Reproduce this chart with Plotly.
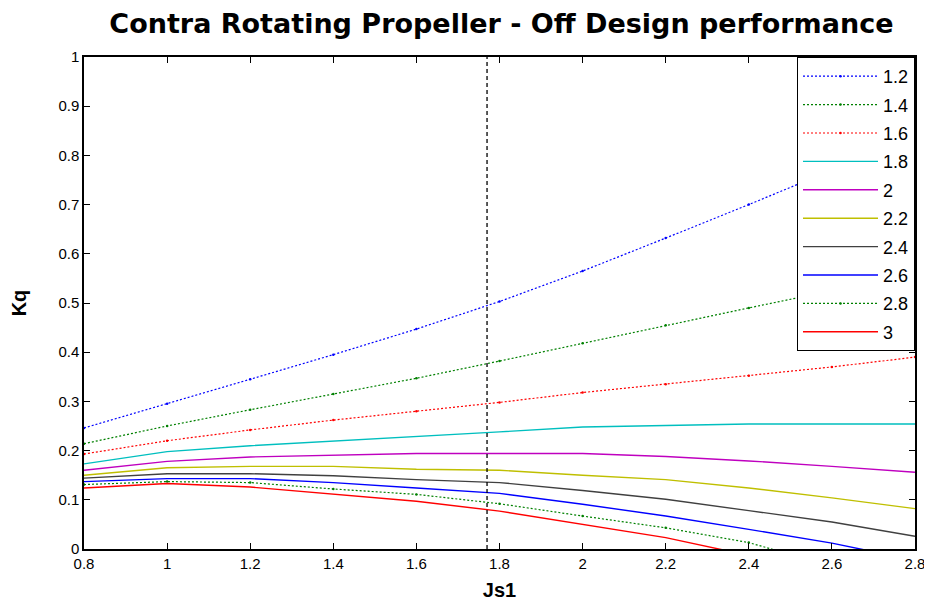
import plotly.graph_objects as go

J = [0.8, 1.0, 1.2, 1.4, 1.6, 1.8, 2.0, 2.2, 2.4, 2.6, 2.8]
series_names = ["1.2", "1.4", "1.6", "1.8", "2", "2.2", "2.4", "2.6", "2.8", "3"]
kq_12 = [0.246, 0.295, 0.345, 0.395, 0.447, 0.503, 0.565, 0.632, 0.700, 0.770, 0.840]
kq_14 = [0.214, 0.250, 0.283, 0.315, 0.347, 0.382, 0.418, 0.455, 0.490, 0.525, 0.560]
kq_16 = [0.193, 0.220, 0.242, 0.262, 0.280, 0.298, 0.318, 0.335, 0.352, 0.370, 0.390]
kq_18 = [0.173, 0.198, 0.210, 0.219, 0.228, 0.238, 0.248, 0.251, 0.254, 0.254, 0.254]
kq_20 = [0.160, 0.178, 0.187, 0.191, 0.194, 0.194, 0.194, 0.188, 0.179, 0.168, 0.156]
kq_22 = [0.150, 0.165, 0.168, 0.168, 0.162, 0.160, 0.150, 0.141, 0.124, 0.104, 0.082]
kq_24 = [0.144, 0.153, 0.153, 0.149, 0.141, 0.135, 0.119, 0.101, 0.078, 0.055, 0.026]
kq_26 = [0.137, 0.143, 0.143, 0.135, 0.124, 0.113, 0.091, 0.067, 0.040, 0.012, -0.023]
kq_28 = [0.131, 0.137, 0.135, 0.122, 0.111, 0.092, 0.067, 0.043, 0.013, -0.035, -0.080]
kq_30 = [0.124, 0.133, 0.126, 0.112, 0.097, 0.077, 0.050, 0.023, -0.013, -0.050, -0.090]
design_J = 1.77

all_kq = [kq_12, kq_14, kq_16, kq_18, kq_20, kq_22, kq_24, kq_26, kq_28, kq_30]
colors = ["#0000ff", "#008000", "#ff0000", "#00bfbf", "#bf00bf", "#bfbf00",
          "#404040", "#0000ff", "#008000", "#ff0000"]
dotted = [True, True, True, False, False, False, False, False, True, False]

fig = go.Figure()
for name, ys, c, d in zip(series_names, all_kq, colors, dotted):
    if d:
        fig.add_trace(go.Scatter(x=J, y=ys, name=name, legendgroup=name, mode="lines+markers",
                                 line=dict(color=c, width=1.2, dash="2px,2px"),
                                 marker=dict(color=c, size=2.5)))
    else:
        fig.add_trace(go.Scatter(x=J, y=ys, name=name, legendgroup=name, mode="lines",
                                 line=dict(color=c, width=1.4)))

fig.add_trace(go.Scatter(x=[design_J, design_J], y=[0, 1], mode="lines",
                         line=dict(color="black", width=1.3, dash="4px,3px"),
                         showlegend=False))

font_family = "Liberation Sans, Arial, sans-serif"
fig.update_layout(
    width=924, height=598,
    plot_bgcolor="white", paper_bgcolor="white",
    margin=dict(l=76, r=17, t=49, b=57, autoexpand=False),
    font=dict(family=font_family, size=15, color="black"),
    title=dict(text="<b>Contra Rotating Propeller - Off Design performance</b>",
               x=0.534, xanchor="center", y=0.974, yanchor="middle",
               font=dict(family="DejaVu Sans, sans-serif", size=27, color="black")),
    showlegend=True,
    legend=dict(x=1, y=1, xanchor="right", yanchor="top",
                bordercolor="black", borderwidth=1, bgcolor="white",
                font=dict(size=18), itemwidth=75, tracegroupgap=2),
)
fig.update_xaxes(range=[0.8, 2.8], dtick=0.2, tick0=0.8, showgrid=False, zeroline=False,
                 showline=True, linecolor="black", linewidth=1.5, mirror="ticks",
                 ticks="inside", ticklen=6, tickcolor="black", automargin=False,
                 title=dict(text="<b>Js1</b>", font=dict(size=20), standoff=12))
fig.update_yaxes(range=[0, 1], dtick=0.1, tick0=0, showgrid=False, zeroline=False,
                 showline=True, linecolor="black", linewidth=1.5, mirror="ticks",
                 ticks="inside", ticklen=6, tickcolor="black", automargin=False,
                 title=dict(text="<b>Kq</b>", font=dict(size=20), standoff=28))

fig.write_html("out.html")
